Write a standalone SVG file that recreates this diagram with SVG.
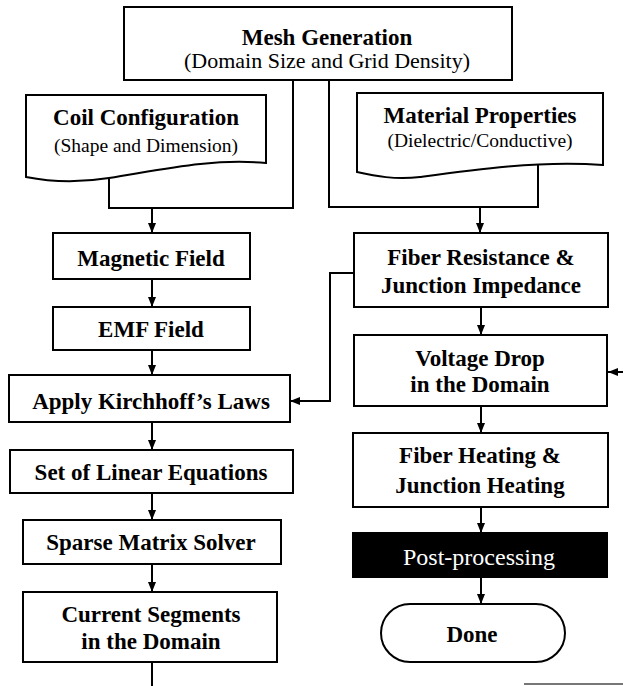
<svg xmlns="http://www.w3.org/2000/svg" width="623" height="686" viewBox="0 0 623 686">
<style>
.box{fill:#fff;stroke:#000;stroke-width:2}
.dark{fill:#000;stroke:#000;stroke-width:2}
.b{font-family:"Liberation Serif","Times New Roman",serif;font-weight:bold;font-size:23px;text-anchor:middle;fill:#000}
.r{font-family:"Liberation Serif","Times New Roman",serif;font-size:22px;text-anchor:middle;fill:#000}
.s{font-family:"Liberation Serif","Times New Roman",serif;font-size:19.5px;text-anchor:middle;fill:#000}
.w{font-family:"Liberation Serif","Times New Roman",serif;font-size:24px;text-anchor:middle;fill:#fff}
.ln{fill:none;stroke:#000;stroke-width:2}
</style>
<defs>
<marker id="ah" viewBox="0 0 10 10" refX="10" refY="5" markerWidth="10" markerHeight="10" orient="auto" markerUnits="userSpaceOnUse">
<path d="M0,1 L10,5 L0,9 z" fill="#000"/>
</marker>
</defs>
<rect width="623" height="686" fill="#fff"/>

<g id="connectors">
<path class="ln" d="M293,80 V208 H109 V179"/>
<path class="ln" d="M152,208 V233" marker-end="url(#ah)"/>
<path class="ln" d="M329,80 V207 H538 V164"/>
<path class="ln" d="M480,207 V233" marker-end="url(#ah)"/>
<path class="ln" d="M152,279 V307" marker-end="url(#ah)"/>
<path class="ln" d="M152,350 V375" marker-end="url(#ah)"/>
<path class="ln" d="M354,273 H330 V401 H290" marker-end="url(#ah)"/>
<path class="ln" d="M152,422 V450" marker-end="url(#ah)"/>
<path class="ln" d="M152,493 V520" marker-end="url(#ah)"/>
<path class="ln" d="M152,564 V592" marker-end="url(#ah)"/>
<path class="ln" d="M152,662 V686"/>
<path class="ln" d="M481,307 V335" marker-end="url(#ah)"/>
<path class="ln" d="M623,372 H608" marker-end="url(#ah)"/>
<path class="ln" d="M481,406 V433" marker-end="url(#ah)"/>
<path class="ln" d="M481,507 V533" marker-end="url(#ah)"/>
<path class="ln" d="M481,577 V604" marker-end="url(#ah)"/>
</g>

<g id="mesh">
<rect class="box" x="124" y="7" width="388" height="73"/>
<text class="b" x="327" y="45">Mesh Generation</text>
<text class="r" x="327" y="68">(Domain Size and Grid Density)</text>
</g>

<g id="coil">
<path class="box" d="M26,95 H266 V163 C210,158 160,170 109,178 C72,184 46,181 26,177 Z"/>
<text class="b" x="146" y="125">Coil Configuration</text>
<text class="s" x="146" y="152">(Shape and Dimension)</text>
</g>

<g id="material">
<path class="box" d="M357,93 H603 V165 C540,160 470,170 420,177 C395,180 375,176 357,172 Z"/>
<text class="b" x="480" y="123">Material Properties</text>
<text class="s" x="480" y="147">(Dielectric/Conductive)</text>
</g>

<g id="magnetic">
<rect class="box" x="53" y="233" width="197" height="46"/>
<text class="b" x="151" y="266">Magnetic Field</text>
</g>

<g id="emf">
<rect class="box" x="53" y="307" width="197" height="43"/>
<text class="b" x="151" y="337">EMF Field</text>
</g>

<g id="kirchhoff">
<rect class="box" x="9" y="375" width="281" height="47"/>
<text class="b" x="151" y="409">Apply Kirchhoff’s Laws</text>
</g>

<g id="linear">
<rect class="box" x="10" y="450" width="283" height="43"/>
<text class="b" x="151" y="480">Set of Linear Equations</text>
</g>

<g id="sparse">
<rect class="box" x="23" y="520" width="258" height="44"/>
<text class="b" x="151" y="550">Sparse Matrix Solver</text>
</g>

<g id="current">
<rect class="box" x="23" y="592" width="254" height="70"/>
<text class="b" x="151" y="622">Current Segments</text>
<text class="b" x="151" y="649">in the Domain</text>
</g>

<g id="resistance">
<rect class="box" x="354" y="233" width="254" height="74"/>
<text class="b" x="481" y="265">Fiber Resistance &amp;</text>
<text class="b" x="481" y="293">Junction Impedance</text>
</g>

<g id="voltage">
<rect class="box" x="354" y="335" width="253" height="71"/>
<text class="b" x="480" y="366">Voltage Drop</text>
<text class="b" x="480" y="392">in the Domain</text>
</g>

<g id="heating">
<rect class="box" x="353" y="433" width="255" height="74"/>
<text class="b" x="480" y="463">Fiber Heating &amp;</text>
<text class="b" x="480" y="493">Junction Heating</text>
</g>

<g id="post">
<rect class="dark" x="353" y="533" width="254" height="44"/>
<text class="w" x="479" y="565">Post-processing</text>
</g>

<g id="done">
<rect class="box" x="381" y="604" width="184" height="58" rx="29" ry="29"/>
<text class="b" x="472" y="642">Done</text>
</g>

<line x1="524" y1="684" x2="623" y2="684" stroke="#777" stroke-width="2"/>
</svg>
